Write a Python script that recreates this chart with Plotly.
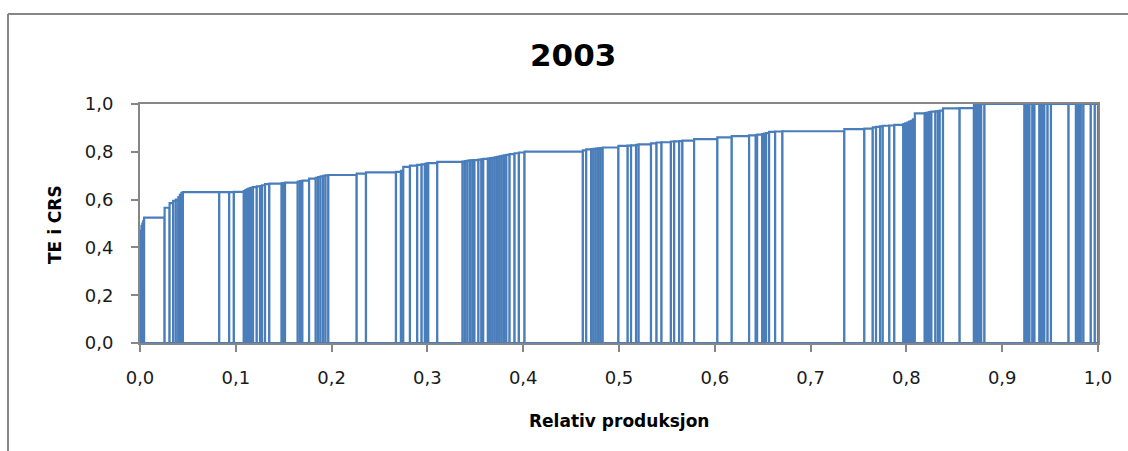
import plotly.graph_objects as go
import numpy as np

# Each unit's share of total production (percent), sorted by efficiency
andel_prosent = [
    0.08, 0.08, 0.09, 0.09, 0.09, 2.14, 0.52, 0.37, 0.28, 0.26,
    0.16, 0.16, 0.16, 3.79, 1.04, 0.49, 1.04, 0.16, 0.16, 0.16,
    0.16, 0.16, 0.16, 0.39, 0.34, 0.21, 0.31, 0.45, 1.29, 0.17,
    0.18, 1.33, 0.24, 0.24, 0.70, 0.70, 0.24, 0.26, 0.26, 0.26,
    0.29, 2.96, 0.97, 3.13, 0.52, 0.24, 0.70, 0.76, 0.46, 0.34,
    0.18, 0.17, 0.94, 2.65, 0.24, 0.26, 0.26, 0.26, 0.21, 0.42,
    0.31, 0.19, 0.49, 0.24, 0.24, 0.24, 0.24, 0.24, 0.24, 0.24,
    0.24, 0.34, 0.52, 0.45, 0.59, 6.09, 0.35, 0.52, 0.24, 0.24,
    0.24, 0.24, 0.24, 1.64, 0.97, 0.35, 0.52, 0.27, 1.29, 0.58,
    0.52, 0.98, 0.34, 0.52, 0.34, 1.22, 2.43, 1.50, 1.81, 0.70,
    0.14, 0.52, 0.21, 0.21, 0.31, 0.63, 0.76, 6.46, 2.09, 0.88,
    0.34, 0.42, 0.28, 0.69, 0.52, 0.94, 0.20, 0.20, 0.20, 0.20,
    0.20, 0.20, 1.04, 0.23, 0.23, 0.23, 0.42, 0.27, 0.18, 0.34,
    1.74, 1.49, 0.19, 0.19, 0.19, 0.19, 0.34, 4.18, 0.17, 0.17,
    0.18, 0.31, 0.21, 0.52, 0.17, 0.17, 0.17, 0.34, 0.35, 1.84,
    0.77, 0.17, 0.17, 0.17, 0.27, 0.77, 0.42, 0.33,
]

# Technical efficiency under constant returns to scale
te_crs = [
    0.440, 0.470, 0.490, 0.500, 0.510, 0.525, 0.566, 0.585, 0.595, 0.600,
    0.610, 0.620, 0.628, 0.631, 0.631, 0.631, 0.632, 0.636, 0.640, 0.643,
    0.646, 0.648, 0.650, 0.652, 0.655, 0.657, 0.660, 0.665, 0.667, 0.668,
    0.669, 0.671, 0.675, 0.677, 0.679, 0.688, 0.691, 0.694, 0.697, 0.699,
    0.701, 0.703, 0.709, 0.714, 0.716, 0.720, 0.737, 0.742, 0.745, 0.747,
    0.750, 0.752, 0.753, 0.758, 0.759, 0.761, 0.763, 0.764, 0.765, 0.765,
    0.767, 0.768, 0.770, 0.772, 0.774, 0.775, 0.777, 0.779, 0.781, 0.783,
    0.785, 0.787, 0.790, 0.794, 0.797, 0.801, 0.806, 0.810, 0.811, 0.812,
    0.813, 0.814, 0.815, 0.818, 0.825, 0.826, 0.827, 0.829, 0.831, 0.835,
    0.839, 0.840, 0.843, 0.844, 0.845, 0.847, 0.853, 0.860, 0.866, 0.869,
    0.870, 0.872, 0.874, 0.876, 0.878, 0.883, 0.885, 0.886, 0.895, 0.897,
    0.902, 0.904, 0.906, 0.909, 0.910, 0.913, 0.916, 0.919, 0.922, 0.926,
    0.930, 0.936, 0.961, 0.962, 0.964, 0.966, 0.968, 0.969, 0.970, 0.972,
    0.982, 0.983, 0.997, 0.998, 1.000, 1.000, 1.000, 1.000, 1.000, 1.000,
    1.000, 1.000, 1.000, 1.000, 1.000, 1.000, 1.000, 1.000, 1.000, 1.000,
    1.000, 1.000, 1.000, 1.000, 1.000, 1.000, 1.000, 1.000,
]

x_ticks = [0.0, 0.1, 0.2, 0.3, 0.4, 0.5, 0.6, 0.7, 0.8, 0.9, 1.0]
y_ticks = [0.0, 0.2, 0.4, 0.6, 0.8, 1.0]

assert len(andel_prosent) == len(te_crs)

share = np.array(andel_prosent) / 100.0
right = np.cumsum(share)
left = right - share
centre = left + share / 2

BLUE = "#4a7ebb"
GRAY = "#868686"
FONT = "DejaVu Sans"

fig = go.Figure(
    go.Bar(
        x=centre,
        y=te_crs,
        width=share,
        marker=dict(color="white", line=dict(color=BLUE, width=2.2)),
        hoverinfo="skip",
    )
)

W, H = 1128, 451
ML, MR, MT, MB = 140, 30, 104, 108
pw = W - ML - MR
ph = H - MT - MB


def px_x(px):
    return (px - ML) / pw


def px_y(py):
    return (H - MB - py) / ph


fig.update_layout(
    width=W,
    height=H,
    margin=dict(l=ML, r=MR, t=MT, b=MB),
    paper_bgcolor="white",
    plot_bgcolor="white",
    showlegend=False,
    barmode="overlay",
    separators=", ",
    font=dict(family=FONT, color="#1a1a1a"),
    xaxis=dict(
        range=[0, 1],
        tickvals=x_ticks,
        tickformat=".1f",
        showgrid=False,
        zeroline=False,
        showline=True,
        linecolor=GRAY,
        linewidth=2,
        mirror=True,
        ticks="outside",
        ticklen=7,
        tickwidth=1.5,
        tickcolor=GRAY,
        tickfont=dict(family=FONT, size=18, color="#1a1a1a"),
        ticklabelstandoff=10,
    ),
    yaxis=dict(
        range=[0, 1],
        tickvals=y_ticks,
        tickformat=".1f",
        showgrid=False,
        zeroline=False,
        showline=True,
        linecolor=GRAY,
        linewidth=2,
        mirror=True,
        ticks="outside",
        ticklen=7,
        tickwidth=1.5,
        tickcolor=GRAY,
        tickfont=dict(family=FONT, size=18, color="#1a1a1a"),
        ticklabelstandoff=14,
    ),
    annotations=[
        dict(
            text="<b>2003</b>",
            xref="paper", yref="paper",
            x=px_x(573), y=px_y(55),
            xanchor="center", yanchor="middle",
            showarrow=False,
            font=dict(family=FONT, size=31, color="black"),
        ),
        dict(
            text="<b>Relativ produksjon</b>",
            xref="paper", yref="paper",
            x=px_x(618.5), y=px_y(421),
            xanchor="center", yanchor="middle",
            showarrow=False,
            font=dict(family=FONT, size=17, color="black"),
        ),
        dict(
            text="<b>TE i CRS</b>",
            xref="paper", yref="paper",
            x=px_x(55), y=px_y(225),
            xanchor="center", yanchor="middle",
            textangle=-90,
            showarrow=False,
            font=dict(family=FONT, size=17, color="black"),
        ),
    ],
    shapes=[
        # outer chart frame (left and top edges)
        dict(type="line", xref="paper", yref="paper",
             x0=px_x(8), x1=px_x(8), y0=px_y(14), y1=px_y(460),
             line=dict(color=GRAY, width=2)),
        dict(type="line", xref="paper", yref="paper",
             x0=px_x(8), x1=px_x(1140), y0=px_y(14), y1=px_y(14),
             line=dict(color=GRAY, width=2)),
    ],
)

fig.write_html("out.html")
